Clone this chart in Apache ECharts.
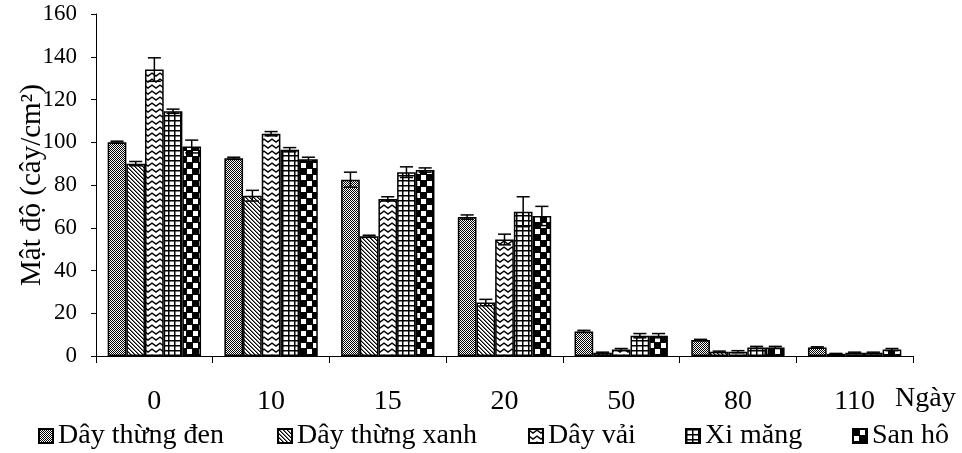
<!DOCTYPE html>
<html>
<head>
<meta charset="utf-8">
<script src="https://cdn.jsdelivr.net/npm/echarts@6/dist/echarts.min.js"></script>
<style>html,body{margin:0;padding:0;background:#fff}#c{width:962px;height:453px}</style>
</head>
<body>
<div id="c"></div>
<script>
// ---- data ----
const categories = ['0', '10', '15', '20', '50', '80', '110'];
const seriesNames = ['Dây thừng đen', 'Dây thừng xanh', 'Dây vải', 'Xi măng', 'San hô'];
const dayThungDen   = [100, 92.5, 82.5, 65, 11.5, 7.5, 4];
const dayThungXanh  = [90, 75, 56, 25, 1.5, 2, 1];
const dayVai        = [134, 104, 73.5, 54.5, 3, 2, 1.5];
const xiMang        = [114.5, 96.5, 86, 67.5, 9.5, 4, 1.5];
const sanHo         = [98, 92, 87, 65.5, 9.5, 4, 3];
const errThungDen   = [0.5, 0.5, 3.5, 1, 0.5, 0.3, 0.3];
const errThungXanh  = [1, 2.5, 0.5, 1.5, 0.3, 0.3, 0.2];
const errVai        = [5.5, 1, 1, 2.5, 0.5, 0.5, 0.3];
const errXiMang     = [1, 1, 2.5, 7, 1, 0.5, 0.3];
const errSanHo      = [3, 1, 1, 4.5, 1, 0.5, 0.5];
const yAxisName = 'Mật độ (cây/cm²)';
const xAxisName = 'Ngày';

const values = [dayThungDen, dayThungXanh, dayVai, xiMang, sanHo];
const errors = [errThungDen, errThungXanh, errVai, errXiMang, errSanHo];

// ---- patterns ----
function mk(w, h, draw) {
  const c = document.createElement('canvas');
  c.width = w; c.height = h;
  const ctx = c.getContext('2d');
  ctx.fillStyle = '#fff'; ctx.fillRect(0, 0, w, h);
  ctx.fillStyle = '#000'; ctx.strokeStyle = '#000';
  draw(ctx);
  return { image: c, repeat: 'repeat' };
}
const patterns = [
  mk(2, 2, ctx => { ctx.fillRect(0, 0, 1, 1); ctx.fillRect(1, 1, 1, 1); }),
  mk(4, 4, ctx => {
    for (let i = 0; i < 4; i++) { ctx.fillStyle = '#000'; ctx.fillRect(i, i, 1, 1); ctx.fillStyle = '#777'; ctx.fillRect((i + 1) % 4, i, 1, 1); }
  }),
  mk(8, 6, ctx => {
    ctx.lineWidth = 1.4; ctx.beginPath();
    ctx.moveTo(-4, 4); ctx.lineTo(0, 1); ctx.lineTo(4, 4); ctx.lineTo(8, 1); ctx.lineTo(12, 4); ctx.stroke();
  }),
  mk(6, 5, ctx => { ctx.fillRect(0, 0, 6, 1.5); ctx.fillRect(0, 0, 1.5, 5); }),
  mk(12, 12, ctx => {
    ctx.fillRect(0, 0, 12, 1); ctx.fillRect(0, 6, 12, 1); ctx.fillRect(0, 0, 1, 12); ctx.fillRect(6, 0, 1, 12);
    ctx.fillRect(1, 1, 5, 5); ctx.fillRect(7, 7, 5, 5);
  })
];

const FONT = 'Liberation Serif';
const series = [];
seriesNames.forEach((name, i) => {
  series.push({
    name: name, type: 'bar', data: values[i],
    barGap: '0%', barCategoryGap: '20%',
    itemStyle: { color: patterns[i], borderColor: '#000', borderWidth: 1.5 },
    z: 2
  });
});
seriesNames.forEach((name, i) => {
  series.push({
    type: 'custom', name: name + ' err', z: 5, silent: true,
    data: categories.map((c, k) => [k, values[i][k], errors[i][k]]),
    encode: { x: 0, y: 1 },
    renderItem: function (params, api) {
      const k = api.value(0), v = api.value(1), e = api.value(2);
      const band = api.size([1, 0])[0];
      const bw = band * 0.8 / 5;
      const cx = api.coord([k, v])[0] + (i - 2) * bw;
      const yt = api.coord([k, v + e])[1];
      const yb = api.coord([k, Math.max(0, v - e)])[1];
      const hw = bw * 0.35;
      const st = { stroke: '#000', lineWidth: 1.5 };
      return { type: 'group', children: [
        { type: 'line', shape: { x1: cx, y1: yt, x2: cx, y2: yb }, style: st },
        { type: 'line', shape: { x1: cx - hw, y1: yt, x2: cx + hw, y2: yt }, style: st },
        { type: 'line', shape: { x1: cx - hw, y1: yb, x2: cx + hw, y2: yb }, style: st }
      ]};
    }
  });
});

const legendLefts = [38, 277, 528, 685, 852];
const legends = seriesNames.map((n, i) => ({
  data: [n], left: legendLefts[i], top: 422, padding: 0,
  itemWidth: 14, itemHeight: 14, itemGap: 0, icon: 'rect',
  textStyle: { fontFamily: FONT, fontSize: 28, color: '#000' },
  selectedMode: false
}));

const chart = echarts.init(document.getElementById('c'), null, { renderer: 'canvas' });
chart.setOption({
  animation: false,
  backgroundColor: '#fff',
  grid: { left: 96, right: 49, top: 14, bottom: 97, containLabel: false },
  legend: legends,
  graphic: [{ type: 'rect', z: 3, zlevel: 0, shape: { x: 0, y: 411, width: 885, height: 42 }, style: { fill: '#fff' }, silent: true }],
  xAxis: {
    type: 'category', data: categories,
    name: xAxisName, nameLocation: 'end', nameGap: -18,
    nameTextStyle: { fontFamily: FONT, fontSize: 28, color: '#000', verticalAlign: 'top', align: 'left', padding: [29, 0, 0, 0] },
    axisLine: { lineStyle: { color: '#000', width: 1 } },
    axisTick: { show: true, length: 7, lineStyle: { color: '#000' } },
    axisLabel: { fontFamily: FONT, fontSize: 28, color: '#000', margin: 32 },
    splitLine: { show: false }
  },
  yAxis: {
    type: 'value', min: 0, max: 160, interval: 20,
    name: yAxisName, nameLocation: 'middle', nameGap: 49, nameMoveOverlap: false,
    nameTextStyle: { fontFamily: FONT, fontSize: 29, color: '#000' },
    axisLine: { show: true, lineStyle: { color: '#000', width: 1 } },
    axisTick: { show: true, length: 5, lineStyle: { color: '#000' } },
    axisLabel: { fontFamily: FONT, fontSize: 23, color: '#000', margin: 19 },
    splitLine: { show: false }
  },
  series: series
});
</script>
</body>
</html>
